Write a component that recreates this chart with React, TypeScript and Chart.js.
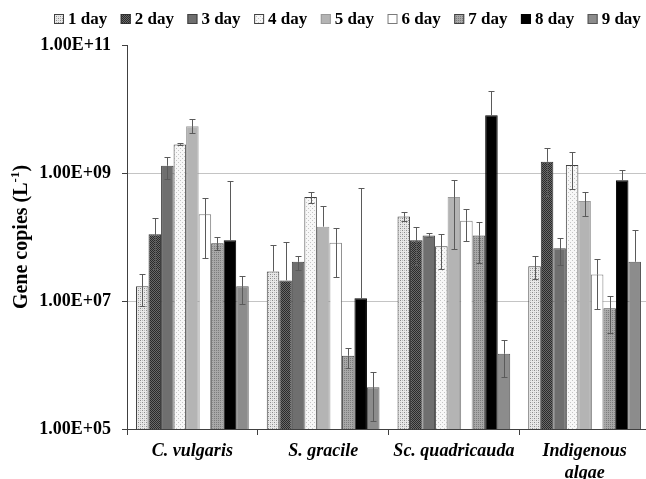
import React, { useEffect, useRef } from 'react';
import { Chart, registerables } from 'chart.js';

Chart.register(...registerables);

const FONT = '"Liberation Serif", "Times New Roman", serif';

const categories: (string | string[])[] = ['C. vulgaris', 'S. gracile', 'Sc. quadricauda', ['Indigenous', 'algae']];
const seriesNames = ['1 day', '2 day', '3 day', '4 day', '5 day', '6 day', '7 day', '8 day', '9 day'];
const yTickValues = [1e5, 1e7, 1e9, 1e11];

// mean values per series (order of categories)
const day1 = [1.7e7, 2.9e7, 2.1e8, 3.5e7];
const day2 = [1.1e8, 2.1e7, 8.9e7, 1.5e9];
const day3 = [1.3e9, 4.1e7, 1.06e8, 6.7e7];
const day4 = [2.8e9, 4.2e8, 7.2e7, 1.33e9];
const day5 = [5.4e9, 1.45e8, 4.2e8, 3.65e8];
const day6 = [2.26e8, 8.1e7, 1.8e8, 2.6e7];
const day7 = [8.0e7, 1.4e6, 1.06e8, 7.7e6];
const day8 = [8.9e7, 1.1e7, 8.0e9, 7.7e8];
const day9 = [1.7e7, 4.5e5, 1.5e6, 4.1e7];

// error bar top ends
const day1Hi = [2.6e7, 7.4e7, 2.5e8, 5.0e7];
const day2Hi = [1.95e8, 8.3e7, 1.43e8, 2.5e9];
const day3Hi = [1.76e9, 5.1e7, 1.15e8, 9.5e7];
const day4Hi = [2.9e9, 5.0e8, 1.12e8, 2.1e9];
const day5Hi = [6.9e9, 3.0e8, 7.85e8, 5.1e8];
const day6Hi = [4.0e8, 1.4e8, 2.75e8, 4.5e7];
const day7Hi = [9.9e7, 1.86e6, 1.74e8, 1.2e7];
const day8Hi = [7.4e8, 5.9e8, 1.9e10, 1.12e9];
const day9Hi = [2.5e7, 7.7e5, 2.43e6, 1.3e8];

// error bar bottom ends (null = not shown)
const day1Lo = [8.5e6, null, 1.8e8, 2.2e7];
const day2Lo = [3.2e7, null, 3.7e7, 4.4e8];
const day3Lo = [8.05e8, 3.1e7, 9.9e7, 3.6e7];
const day4Lo = [2.75e9, 3.4e8, 3.2e7, 5.6e8];
const day5Lo = [4.2e9, null, 6.5e7, 2.15e8];
const day6Lo = [4.7e7, 2.4e7, 8.7e7, 7.6e6];
const day7Lo = [6.2e7, 9.1e5, 3.9e7, 3.2e6];
const day8Lo = [null, null, null, null];
const day9Lo = [8.9e6, 1.33e5, 6.6e5, null];

const means = [day1, day2, day3, day4, day5, day6, day7, day8, day9];
const highs = [day1Hi, day2Hi, day3Hi, day4Hi, day5Hi, day6Hi, day7Hi, day8Hi, day9Hi];
const lows = [day1Lo, day2Lo, day3Lo, day4Lo, day5Lo, day6Lo, day7Lo, day8Lo, day9Lo];

function makePattern(size: number, bg: string, dots: [number, number, string][]): CanvasPattern | string {
  const c = document.createElement('canvas');
  c.width = size;
  c.height = size;
  const ctx = c.getContext('2d');
  if (!ctx) return bg;
  ctx.fillStyle = bg;
  ctx.fillRect(0, 0, size, size);
  for (const [x, y, col] of dots) {
    ctx.fillStyle = col;
    ctx.fillRect(x, y, 1, 1);
  }
  const p = ctx.createPattern(c, 'repeat');
  return p || bg;
}

function fmtExp(v: number): string {
  const e = Math.round(Math.log10(v));
  const m = v / Math.pow(10, e);
  return m.toFixed(2) + 'E+' + (e < 10 ? '0' + e : String(e));
}

export default function App() {
  const ref = useRef<HTMLCanvasElement | null>(null);

  useEffect(() => {
    if (!ref.current) return;

    const fills: (CanvasPattern | string)[] = [
      makePattern(4, '#e8e8e8', [[0, 0, '#8a8a8a'], [2, 2, '#8a8a8a'], [2, 0, '#bcbcbc'], [0, 2, '#bcbcbc']]),
      makePattern(2, '#6a6a6a', [[0, 0, '#2a2a2a'], [1, 1, '#2a2a2a']]),
      '#6f6f6f',
      makePattern(4, '#f7f7f7', [[0, 0, '#c4c4c4'], [2, 2, '#c4c4c4']]),
      '#b4b4b4',
      '#ffffff',
      makePattern(2, '#a8a8a8', [[0, 0, '#7c7c7c']]),
      '#000000',
      '#8c8c8c',
    ];
    const borders = ['#404040', '#303030', '#404040', '#404040', '#9a9a9a', '#7a7a7a', '#404040', '#000000', '#555555'];

    const errorBars = {
      id: 'errorBars',
      afterDatasetsDraw(chart: any) {
        const ctx = chart.ctx;
        const y = chart.scales.y;
        ctx.save();
        ctx.lineWidth = 1;
        ctx.strokeStyle = '#5a5a5a';
        means.forEach((_, di) => {
          const meta = chart.getDatasetMeta(di);
          meta.data.forEach((bar: any, j: number) => {
            const hi = highs[di][j];
            const lo = lows[di][j];
            const x = Math.round(bar.x) + 0.5;
            const yMean = y.getPixelForValue(means[di][j]);
            const cap = 3;
            if (hi != null) {
              const yh = Math.round(y.getPixelForValue(hi)) + 0.5;
              ctx.beginPath();
              ctx.moveTo(x, yMean);
              ctx.lineTo(x, yh);
              ctx.moveTo(x - cap, yh);
              ctx.lineTo(x + cap, yh);
              ctx.stroke();
            }
            if (lo != null) {
              const yl = Math.round(y.getPixelForValue(lo)) + 0.5;
              ctx.beginPath();
              ctx.moveTo(x, yMean);
              ctx.lineTo(x, yl);
              ctx.moveTo(x - cap, yl);
              ctx.lineTo(x + cap, yl);
              ctx.stroke();
            }
          });
        });
        ctx.restore();
      },
    };

    const customText = {
      id: 'customText',
      afterDraw(chart: any) {
        const ctx = chart.ctx;
        ctx.save();
        // legend
        ctx.font = `bold 17px ${FONT}`;
        ctx.textBaseline = 'middle';
        ctx.textAlign = 'left';
        let x = 54;
        const cy = 19;
        seriesNames.forEach((name, i) => {
          ctx.fillStyle = fills[i];
          ctx.fillRect(x, cy - 5, 10, 10);
          ctx.strokeStyle = borders[i];
          ctx.lineWidth = 1;
          ctx.strokeRect(x + 0.5, cy - 4.5, 9, 9);
          ctx.fillStyle = '#000';
          ctx.fillText(name, x + 14, cy + 1);
          x += 14 + ctx.measureText(name).width + 13.5;
        });
        // y axis title
        const area = chart.chartArea;
        ctx.translate(20, (area.top + area.bottom) / 2);
        ctx.rotate(-Math.PI / 2);
        const mainFont = `bold 20px ${FONT}`;
        const supFont = `bold 13px ${FONT}`;
        const p1 = 'Gene copies (L';
        const p2 = '-1';
        const p3 = ')';
        ctx.font = mainFont;
        const w1 = ctx.measureText(p1).width;
        const w3 = ctx.measureText(p3).width;
        ctx.font = supFont;
        const w2 = ctx.measureText(p2).width;
        const total = w1 + w2 + w3;
        let tx = -total / 2;
        ctx.fillStyle = '#000';
        ctx.textBaseline = 'alphabetic';
        ctx.font = mainFont;
        ctx.fillText(p1, tx, 7);
        tx += w1;
        ctx.font = supFont;
        ctx.fillText(p2, tx, -1);
        tx += w2;
        ctx.font = mainFont;
        ctx.fillText(p3, tx, 7);
        ctx.restore();
      },
    };

    const chart = new Chart(ref.current, {
      type: 'bar',
      data: {
        labels: categories as any,
        datasets: seriesNames.map((name, i) => ({
          label: name,
          data: means[i],
          backgroundColor: fills[i] as any,
          borderColor: borders[i],
          borderWidth: 1,
          categoryPercentage: 0.862,
          barPercentage: 1,
        })),
      },
      options: {
        responsive: false,
        animation: false,
        devicePixelRatio: 1,
        layout: { padding: { top: 45, left: 0, right: 0, bottom: 0 } },
        plugins: {
          legend: { display: false },
          tooltip: { enabled: false },
          title: { display: false },
        },
        scales: {
          x: {
            offset: true,
            grid: {
              offset: true,
              drawOnChartArea: false,
              drawTicks: true,
              tickLength: 6,
              tickColor: '#404040',
              color: '#404040',
            },
            border: { color: '#404040', width: 1 },
            ticks: {
              color: '#000',
              font: { family: FONT, size: 18, weight: 'bold', style: 'italic' },
              padding: 6,
              maxRotation: 0,
              autoSkip: false,
            },
            afterFit: (s: any) => {
              s.height = 50;
            },
          },
          y: {
            type: 'logarithmic',
            min: 1e5,
            max: 1e11,
            afterBuildTicks: (s: any) => {
              s.ticks = yTickValues.map((v) => ({ value: v }));
            },
            afterFit: (s: any) => {
              s.width = 127;
            },
            ticks: {
              color: '#000',
              font: { family: FONT, size: 18, weight: 'bold' },
              padding: 11,
              autoSkip: false,
              callback: (v: any) => fmtExp(Number(v)),
            },
            grid: {
              color: (c: any) =>
                c.tick && (c.tick.value === 1e7 || c.tick.value === 1e9) ? '#c4c4c4' : 'rgba(0,0,0,0)',
              tickColor: '#404040',
              tickLength: 5,
              drawTicks: true,
            },
            border: { color: '#404040', width: 1 },
          },
        },
      },
      plugins: [errorBars, customText],
    } as any);

    return () => {
      chart.destroy();
    };
  }, []);

  return (
    <div style={{ position: 'fixed', left: 0, top: 0, width: 646, height: 479, overflow: 'hidden', background: '#fff' }}>
      <canvas ref={ref} width={650} height={479} style={{ display: 'block' }} />
    </div>
  );
}
